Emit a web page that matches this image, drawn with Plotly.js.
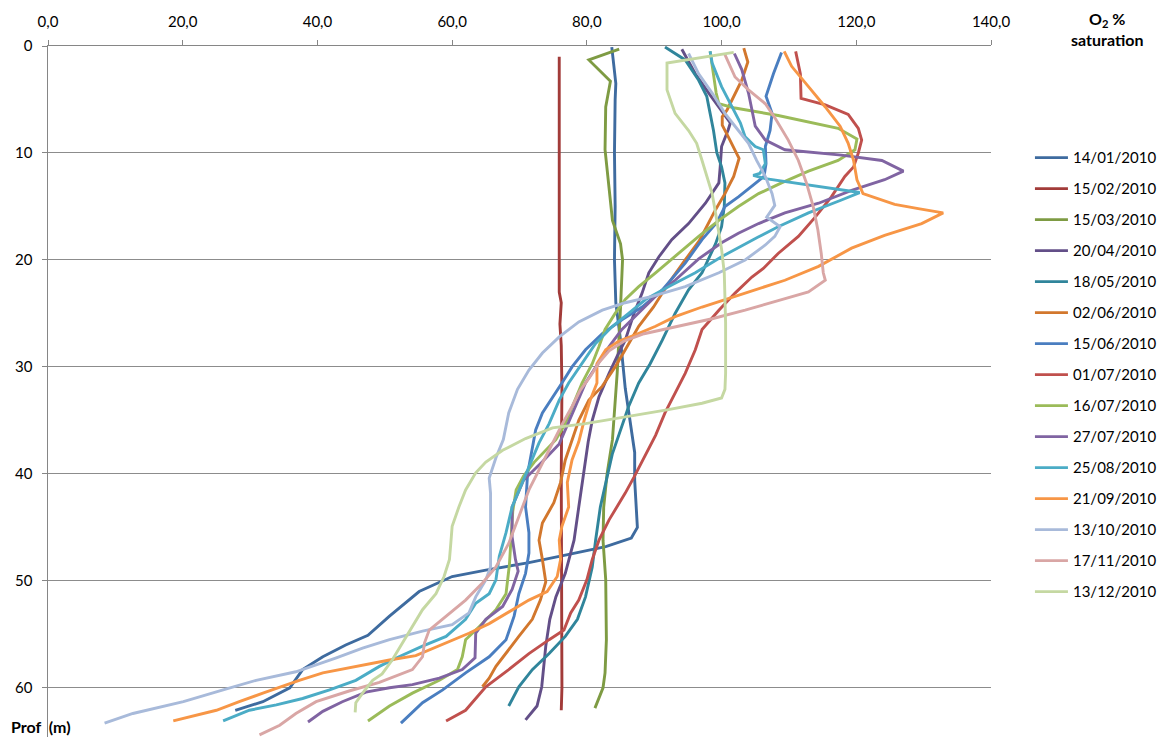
<!DOCTYPE html>
<html>
<head>
<meta charset="utf-8">
<script src="https://cdn.plot.ly/plotly-3.0.1.min.js"></script>
<style>
  html, body { margin: 0; padding: 0; background: #fff; }
  #chart { width: 1162px; height: 737px; }
</style>
</head>
<body>
<div id="chart"></div>
<script>
// ---- Data (O2 % saturation vs depth in m) ----
const dates = ["14/01/2010","15/02/2010","15/03/2010","20/04/2010","18/05/2010","02/06/2010","15/06/2010","01/07/2010","16/07/2010","27/07/2010","25/08/2010","21/09/2010","13/10/2010","17/11/2010","13/12/2010"];

const o2_1401 = [83.7,84.3,84.2,84.1,84.2,84.1,84.3,85.0,85.7,86.6,87.1,87.1,87.3,87.5,86.6,82.8,76.8,71.4,65.0,60.0,55.1,50.7,47.5,44.2,40.8,37.8,35.9,31.9,27.8];
const dep_1401 = [0.1,3.5,5,10,15,20,24,27.5,32,35.6,38,40.6,43,45,46,46.8,47.6,48.3,49,49.6,51,53.3,55.1,56,57.1,58.3,60,61.3,62.1];

const o2_1502 = [75.9,75.9,75.9,75.9,76.2,76.0,76.2,76.3,76.2,76.3,76.3,76.2];
const dep_1502 = [1.0,10,20,23,24,26,28,32,40,50,60,62.1];

const o2_1503 = [84.8,80.3,83.5,82.8,82.7,83.3,83.8,85.0,85.3,85.0,84.5,83.8,83.0,82.5,82.4,82.8,82.9,82.7,82.4,81.2];
const dep_1503 = [0.3,1.3,3.3,5.7,9.7,13.5,16.3,18.5,20,24.4,30.6,36.8,40,43.1,46.2,49.9,55.5,58.6,60,61.9];

const o2_2004 = [94.1,96.1,98.1,100.0,101.3,101.0,100.0,99.8,99.6,97.6,95.1,92.6,90.7,89.2,88.2,87.0,85.7,84.5,83.3,81.8,80.8,80.2,79.5,78.8,78.1,76.8,75.4,74.5,73.9,73.3,72.6,70.9];
const dep_2004 = [0.3,2.6,4.4,6.0,7.2,7.8,9.4,11.3,12.8,14.7,16.6,18.1,19.7,21.2,23.1,25,27.5,29,30.6,32.8,35,37,39.9,43.1,46.2,49.3,51.5,53.6,56.1,59.9,61.7,63.0];

const o2_1805 = [91.6,94.6,96.6,97.8,98.3,98.8,99.3,100.0,100.5,100.4,100.0,99.1,97.1,95.1,93.1,91.2,89.4,87.7,86.2,85.0,83.8,83.0,82.0,81.3,80.8,79.8,78.6,76.8,74.4,71.9,69.9,68.4];
const dep_1805 = [0.1,1.3,3.2,4.7,6.3,7.9,10,11.3,12.8,15,16.9,18.5,21.2,22.8,25,27.5,29.7,31.5,33.7,35.9,38.1,40.3,43.1,46.2,48.7,51.5,53.6,55.2,56.8,58.3,59.9,61.7];

const o2_0206 = [103.3,103.9,103.0,101.8,100.8,100.1,100.1,101.0,102.0,102.6,101.8,100.5,99.1,97.8,96.7,94.6,92.1,89.9,87.7,85.7,84.2,82.3,80.3,78.8,77.8,76.8,76.1,75.1,73.4,72.9,73.4,73.9,73.1,71.9,69.9,68.0,66.5,65.5,64.5];
const dep_0206 = [0.2,1.5,3.2,4.7,6.0,6.6,7.4,8.5,9.7,10.5,12.2,13.8,15.3,16.9,18.2,20,22.2,24.4,26.2,28.4,30,31.8,33.1,35,36.8,38.7,40.8,42.7,44.6,46.2,48.0,50.1,51.8,53.6,55.2,56.8,58.0,59.1,59.9];

const o2_1506 = [108.9,107.7,106.6,107.5,107.2,106.5,106.6,106.3,104.5,102.5,100.5,99.3,97.1,94.6,91.2,88.2,85.2,82.3,79.8,77.8,76.3,74.9,73.4,72.4,71.7,71.2,70.9,71.4,71.4,70.9,69.9,69.2,68.0,65.5,62.0,58.6,55.6,52.4];
const dep_1506 = [0.6,2.6,4.7,6.3,7.9,9.4,11,12.2,13.1,14.1,15.0,16.5,18.1,20.3,22.8,24.4,25.6,26.9,28.4,30,31.5,32.8,34.3,35.9,38.1,40,43.1,45.5,47.4,49.3,51.2,53.3,55.5,57.1,58.6,60.2,61.4,63.3];

const o2_0107 = [111.0,111.7,111.8,115.4,118.8,120.3,120.8,120.3,119.6,118.3,116.3,113.9,111.4,108.4,106.2,104.5,102.0,99.6,97.1,96.1,94.6,93.1,91.6,90.2,88.5,87.0,85.7,83.3,81.8,80.8,80.0,78.8,77.6,76.6,74.4,71.4,68.4,65.0,62.0,59.1];
const dep_0107 = [0.5,2.6,4.9,5.5,6.4,7.7,8.8,10,11.3,12.2,14.1,16,17.8,19.4,20.8,21.6,23.1,24.7,26.5,28.4,30.6,32.5,34.3,36.4,38.5,40.3,41.8,44.3,46.2,48.0,49.9,51.8,53.0,54.6,55.5,56.8,58.3,59.9,62.1,63.1];

const o2_1607 = [98.3,98.8,99.2,99.6,102.0,108.4,117.3,120.1,119.8,117.3,112.9,108.9,105.5,102.5,99.6,96.6,93.1,90.2,87.7,85.7,84.2,82.7,81.8,80.8,79.3,78.1,76.8,75.4,73.9,72.2,70.6,69.5,69.0,68.8,68.5,68.0,66.5,64.0,62.0,61.5,60.8,58.1,54.1,50.7,47.5];
const dep_1607 = [0.5,2.9,4.4,5.4,5.8,6.5,7.7,8.7,9.7,10.7,11.7,12.8,13.8,15.0,16.3,17.8,19.7,21.2,22.5,23.7,25,26.5,28.1,29.7,31.5,33.4,35.3,36.8,37.8,38.9,40.2,41.5,43.5,46,48.5,51.2,52.7,54.3,55.5,57.1,58.3,59.3,60.5,61.7,63.1];

const o2_2707 = [101.9,103.0,104.0,104.5,105.0,106.5,109.4,117.8,123.8,127.0,124.2,119.3,114.4,109.4,105.5,102.5,100.0,96.6,93.1,90.2,87.7,85.2,83.3,81.3,79.8,78.3,76.8,75.9,73.5,70.6,68.9,68.9,69.4,69.8,68.9,67.5,65.0,63.5,63.4,61.5,58.1,54.1,50.7,47.2,43.7,40.8,38.6];
const dep_2707 = [0.7,2.2,4.4,6.0,7.5,8.8,9.7,10.2,10.7,11.7,12.5,13.5,14.7,15.6,16.6,17.5,18.4,19.9,21.9,23.4,25,26.5,28.1,30,31.5,33.7,35.9,37.2,38.8,40.6,43.1,45.9,48.0,49.1,50.8,52.4,53.6,54.9,57.2,58.3,59.1,59.7,60.0,60.4,61.3,62.2,63.2];

const o2_2508 = [98.3,98.6,100.0,101.5,102.8,103.5,105.0,106.2,106.5,105.7,104.7,106.5,120.5,117.8,112.9,108.4,105.3,100.0,96.1,92.1,88.7,86.2,83.8,81.3,79.3,77.3,75.9,74.4,72.9,71.6,70.4,68.9,68.0,67.0,66.5,65.5,63.5,62.0,59.1,55.6,52.1,49.2,45.7,41.8,37.8,33.9,29.9,26.0];
const dep_2508 = [0.5,1.6,3.8,5.7,7.2,8.5,9.4,9.7,11.0,11.9,12.1,12.4,13.7,14.4,15.6,16.9,17.9,19.7,21.2,22.5,23.7,25,26.2,27.8,29.7,31.5,33.1,35.3,37.1,39.0,40.8,43.1,45.5,47.7,49.9,51.2,52.1,53.6,55.2,56.1,57.1,58.0,59.3,60.2,61.0,61.6,62.1,63.1];

const o2_2109 = [109.3,110.4,112.9,115.4,117.6,118.8,119.6,120.1,121.0,125.7,129.2,132.9,129.7,124.2,119.3,114.4,109.4,105.5,102.0,97.1,93.1,90.2,87.2,84.7,82.8,81.5,81.5,80.5,79.6,78.8,77.8,77.1,77.3,76.3,75.9,76.1,75.6,74.1,71.4,68.9,65.5,62.5,59.1,54.6,50.7,45.7,40.8,37.3,35.4,31.9,28.4,25.0,18.6];
const dep_2109 = [0.5,1.9,3.8,5.7,7.5,9.1,10.7,12.5,13.8,14.8,15.2,15.6,16.6,17.7,18.9,20.6,21.9,22.7,23.4,24.4,25.3,26.2,27.0,27.6,28.4,29.7,31.5,33.1,35.0,37.0,38.7,40.8,43.1,44.9,46.2,48.0,49.6,51.0,51.8,52.7,54.0,54.9,55.8,57.0,57.4,58.0,58.6,59.3,59.7,60.5,61.3,62.1,63.1];

const o2_1310 = [95.1,96.6,98.6,100.5,102.5,104.0,105.2,106.5,107.5,107.9,106.7,108.7,107.9,106.5,103.5,99.6,94.6,89.7,85.7,82.3,78.8,75.9,73.4,71.4,69.7,68.4,67.6,66.5,65.5,65.7,65.7,65.7,65.0,63.5,62.5,60.0,55.6,50.7,46.7,42.8,36.8,30.9,26.0,20.1,12.6,8.4];
const dep_1310 = [0.7,2.6,4.4,6.3,7.9,9.1,10.7,12.2,13.8,14.9,16.0,16.9,17.8,18.6,20.0,21.2,22.5,23.4,24.0,24.7,25.8,27.2,28.7,30.3,32.1,34.3,36.8,38.5,40.4,41.8,44.6,48.7,49.9,51.5,53.0,54.1,54.7,55.5,56.3,57.2,58.5,59.3,60.2,61.3,62.4,63.3];

const o2_1711 = [100.5,102.0,104.0,106.5,108.0,109.9,111.4,112.6,113.6,114.3,114.8,115.1,115.4,112.9,108.4,103.5,98.6,93.6,88.5,85.5,83.3,81.8,80.5,79.0,77.8,76.3,75.2,73.4,71.4,69.9,68.4,66.5,64.5,62.0,59.1,56.6,55.9,55.6,54.1,51.7,49.2,44.7,39.8,36.8,34.4,31.4];
const dep_1711 = [0.8,2.9,4.1,5.4,6.8,8.8,10.7,12.8,15.0,17.2,19.4,21.2,21.9,23.0,23.8,24.7,25.5,26.2,26.9,27.6,28.5,29.6,30.9,32.2,33.7,35.4,36.8,39.0,41.5,44.0,46.5,48.7,50.2,51.8,53.3,54.6,55.8,57.1,58.3,58.9,59.5,60.3,61.3,62.4,63.5,64.4];

const o2_1312 = [101.8,91.9,91.9,93.1,95.1,96.3,97.1,97.8,98.6,99.1,99.6,100.0,100.4,100.6,100.6,100.5,100.0,97.1,92.1,86.2,79.8,74.9,70.9,67.5,65.0,63.5,62.0,61.0,60.0,59.8,59.6,58.8,57.6,55.6,54.1,52.6,51.1,49.6,48.2,46.7,45.7,45.6];
const dep_1312 = [0.6,1.6,4.1,6.3,7.9,9.1,10.7,12.2,13.8,15.6,17.5,19.0,21.2,25.9,30.6,32.1,32.9,33.4,34.0,34.6,35.3,35.7,36.7,37.8,38.9,39.9,41.5,43.1,44.9,46.5,48.0,49.6,51.2,52.7,54.3,55.8,57.4,58.7,59.3,60.5,61.4,62.3];

const seriesX = [o2_1401,o2_1502,o2_1503,o2_2004,o2_1805,o2_0206,o2_1506,o2_0107,o2_1607,o2_2707,o2_2508,o2_2109,o2_1310,o2_1711,o2_1312];
const seriesY = [dep_1401,dep_1502,dep_1503,dep_2004,dep_1805,dep_0206,dep_1506,dep_0107,dep_1607,dep_2707,dep_2508,dep_2109,dep_1310,dep_1711,dep_1312];

const xTicks = [0,20,40,60,80,100,120,140];
const yTicks = [0,10,20,30,40,50,60];

// ---- Styles ----
const colors = ["#3E6B9F","#A23B39","#7E9B43","#634F88","#30859B","#D2772D","#4A7EC0","#C0504D","#9BBB59","#8064A2","#4BACC6","#F79646","#A8BADA","#D9A6A5","#C5D8A2"];
const FONT = "Lato, 'Open Sans', sans-serif";

const traces = dates.map((d, i) => ({
  x: seriesX[i],
  y: seriesY[i],
  type: "scatter",
  mode: "lines",
  name: d,
  legendgroup: "g" + i,
  line: { color: colors[i], width: 2.9 },
  hoverinfo: "x+y+name"
}));

const layout = {
  width: 1162,
  height: 737,
  paper_bgcolor: "#ffffff",
  plot_bgcolor: "#ffffff",
  margin: { l: 48, r: 169, t: 46, b: 0, pad: 0 },
  separators: ", ",
  font: { family: FONT, size: 15, color: "#000" },
  showlegend: true,
  legend: {
    x: 1.0413, xanchor: "left",
    y: 0.862, yanchor: "top",
    font: { family: FONT, size: 15, color: "#000" },
    tracegroupgap: 8.5,
    itemwidth: 33,
    bgcolor: "rgba(0,0,0,0)"
  },
  xaxis: {
    side: "top",
    range: [0, 140],
    tickvals: xTicks,
    tickformat: ".1f",
    showgrid: false,
    zeroline: false,
    showline: true,
    linecolor: "#868686",
    linewidth: 1.5,
    ticks: "outside",
    ticklen: 5,
    tickcolor: "#868686",
    ticklabelstandoff: 7,
    tickfont: { family: FONT, size: 15, color: "#000" },
    fixedrange: true
  },
  yaxis: {
    range: [64.6, 0],
    tickvals: yTicks,
    showgrid: true,
    gridcolor: "#8C8C8C",
    gridwidth: 1,
    zeroline: false,
    showline: true,
    linecolor: "#868686",
    linewidth: 1.5,
    ticks: "outside",
    ticklen: 5,
    tickcolor: "#868686",
    ticklabelstandoff: 6,
    tickfont: { family: FONT, size: 15, color: "#000" },
    fixedrange: true
  },
  annotations: [
    {
      xref: "paper", yref: "paper",
      x: 1.1228, y: 1.0253,
      xanchor: "center", yanchor: "middle",
      text: "<b>O<sub>2</sub> %</b><br><b>saturation</b>",
      showarrow: false,
      font: { family: FONT, size: 16, color: "#000" }
    },
    {
      xref: "paper", yref: "paper",
      x: -0.0074, y: 0.0145,
      xanchor: "center", yanchor: "middle",
      text: "<b>Prof  (m)</b>",
      showarrow: false,
      font: { family: FONT, size: 16, color: "#000" }
    }
  ]
};

Plotly.newPlot("chart", traces, layout, { displayModeBar: false, staticPlot: true });
</script>
</body>
</html>
